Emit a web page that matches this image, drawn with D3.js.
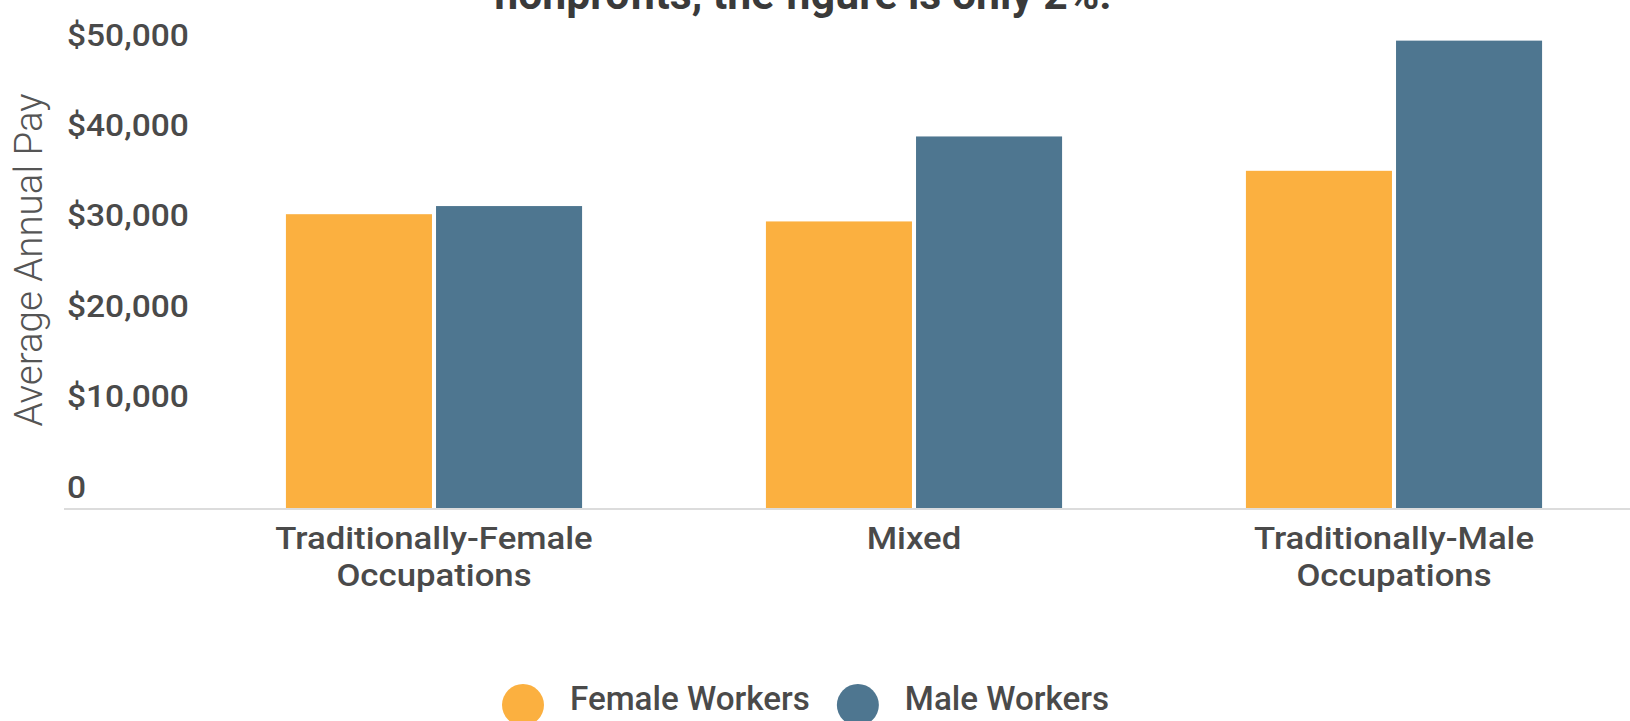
<!DOCTYPE html>
<html>
<head>
<meta charset="utf-8">
<script src="https://cdn.jsdelivr.net/npm/d3@7"></script>
<style>
  body { margin: 0; background: #fff; }
  text { font-family: Roboto, "Noto Sans", sans-serif; }
</style>
</head>
<body>
<div id="chart"></div>
<script>
var categories = ["Traditionally-Female Occupations", "Mixed", "Traditionally-Male Occupations"];
var categoryLines = [["Traditionally-Female", "Occupations"], ["Mixed"], ["Traditionally-Male", "Occupations"]];
var series = ["Female Workers", "Male Workers"];
var femalePay = [32500, 31700, 37300];
var malePay = [33400, 41100, 51700];
var yTicks = [0, 10000, 20000, 30000, 40000, 50000];
var title = "nonprofits, the figure is only 2%.";

var w = 1630, h = 721;

var svg = d3.select("#chart").append("svg").attr("width", w).attr("height", h);

var x0 = d3.scaleBand().domain(categories).range([194, 1634]).paddingInner(0.383).paddingOuter(0.1915);
var x1 = d3.scaleBand().domain(series).range([0, x0.bandwidth()]).paddingInner(0.027);
var y = d3.scaleLinear().domain([0, 50000]).range([508, 56]);
var color = d3.scaleOrdinal().domain(series).range(["#FBB040", "#4E7690"]);

var rows = categories.map((c, i) => ({cat: c, vals: [femalePay[i], malePay[i]]}));

// bars
var groups = svg.append("g").selectAll("g").data(rows).enter().append("g")
    .attr("transform", d => "translate(" + x0(d.cat) + ",0)");
groups.selectAll("rect")
    .data(d => d.vals.map((v, j) => ({s: series[j], v: v})))
    .enter().append("rect")
    .attr("x", d => x1(d.s))
    .attr("y", d => y(d.v))
    .attr("width", x1.bandwidth())
    .attr("height", d => y(0) - y(d.v))
    .attr("fill", d => color(d.s));

// baseline
svg.append("line")
    .attr("x1", 64).attr("x2", w)
    .attr("y1", y(0) + 1).attr("y2", y(0) + 1)
    .attr("stroke", "#dcdcdc").attr("stroke-width", 2);

// y axis
var yAxis = d3.axisLeft(y).tickValues(yTicks).tickSize(0)
    .tickFormat(d => d === 0 ? "0" : d3.format("$,")(d));
var yg = svg.append("g").attr("transform", "translate(67,0)").call(yAxis);
yg.select(".domain").remove();
yg.selectAll("text")
    .attr("x", 0).attr("y", 0).attr("dy", null)
    .attr("transform", "translate(0,-11) scale(1.1,1)")
    .style("text-anchor", "start")
    .style("font-size", "30.5px").style("font-weight", 500)
    .attr("fill", "#4a4a4a");

// x axis labels
var xAxis = d3.axisBottom(x0).tickSize(0).tickFormat("");
var xg = svg.append("g").attr("transform", "translate(0," + y(0) + ")").call(xAxis);
xg.select(".domain").remove();
xg.selectAll(".tick text").remove();
xg.selectAll(".tick").each(function(d, i) {
    var t = d3.select(this).append("text")
        .attr("transform", "translate(0,41) scale(1.14,1)")
        .style("text-anchor", "middle")
        .style("font-size", "30.5px").style("font-weight", 500)
        .attr("fill", "#4a4a4a");
    categoryLines[i].forEach((line, k) => {
        t.append("tspan").attr("x", 0).attr("dy", k === 0 ? 0 : 37).text(line);
    });
});

// y title
svg.append("text")
    .attr("transform", "translate(42,260) rotate(-90)")
    .style("text-anchor", "middle")
    .style("font-size", "38.5px").style("font-weight", 300)
    .attr("fill", "#555")
    .text("Average Annual Pay");

// title (cut off at top)
svg.append("text")
    .attr("x", 803).attr("y", 9)
    .style("text-anchor", "middle")
    .style("font-size", "42.7px").style("font-weight", 700)
    .attr("fill", "#3a3a3a")
    .text(title);

// legend
var legend = svg.append("g");
var lx = 502;
series.forEach((s, i) => {
    var it = legend.append("g").attr("transform", "translate(" + lx + ",0)");
    it.append("circle").attr("cx", 21).attr("cy", 705).attr("r", 21).attr("fill", color(s));
    var t = it.append("text").attr("x", 68).attr("y", 710)
        .style("font-size", "33.2px").style("font-weight", 500)
        .attr("fill", "#4a4a4a").text(s);
    lx += 68 + t.node().getComputedTextLength() + 27;
});
</script>
</body>
</html>
